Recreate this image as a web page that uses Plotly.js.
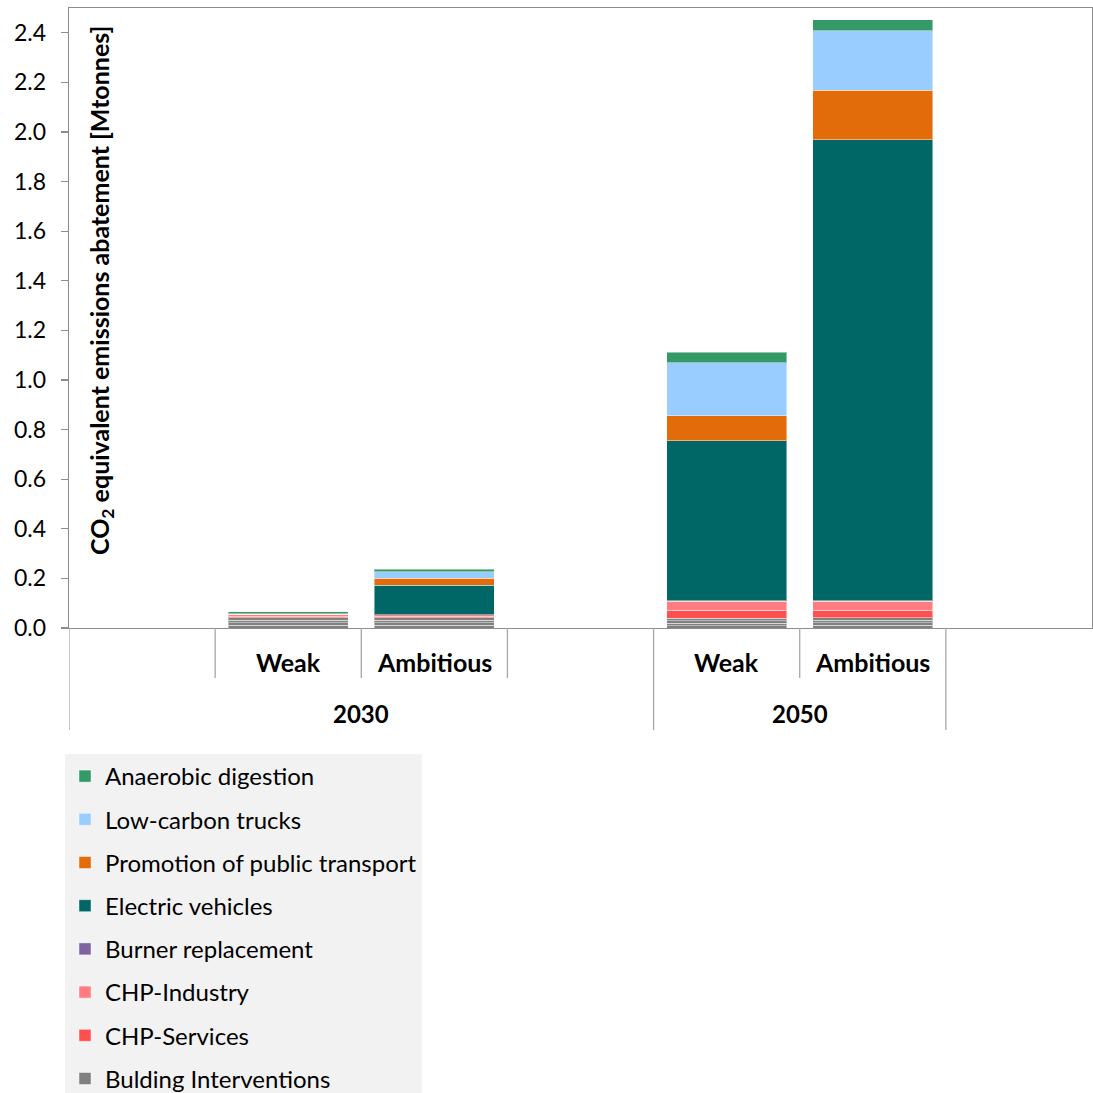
<!DOCTYPE html>
<html>
<head>
<meta charset="utf-8">
<script src="https://cdn.plot.ly/plotly-3.0.1.min.js"></script>
<style>
  html, body { margin: 0; padding: 0; background: #ffffff; }
  #chart { width: 1093px; height: 1093px; }
</style>
</head>
<body>
<div id="chart"></div>
<script>
// Scenario bars: year group and ambition level
const years = ['2030', '2030', '2050', '2050'];
const scenarios = ['Weak', 'Ambitious', 'Weak', 'Ambitious'];

// Abatement per measure, Mt CO2-eq (order follows the bars above)
// Building interventions are stacked as several grey sub-measures
const buildingInterventions = [
  [0.011, 0.011, 0.010, 0.011],
  [0.010, 0.010, 0.010, 0.010],
  [0.011, 0.011, 0.010, 0.010],
  [0.010, 0.010, 0.010, 0.010]
];
const chpServices = [0.006, 0.005, 0.032, 0.031];
const chpIndustry = [0.007, 0.007, 0.035, 0.035];
const burnerReplacement = [0.000, 0.000, 0.002, 0.002];
const electricVehicles = [0.001, 0.118, 0.646, 1.860];
const publicTransport = [0.001, 0.029, 0.100, 0.199];
const lowCarbonTrucks = [0.001, 0.026, 0.215, 0.241];
const anaerobicDigestion = [0.007, 0.009, 0.042, 0.044];

// Slot order on the category axis (empty slots pad the year groups)
const slotOrder = ['pad-a', '2030 Weak', '2030 Ambitious', 'pad-b', '2050 Weak', '2050 Ambitious', 'pad-c'];
const slotYear = ['2030', '2030', '2030', '2030', '2050', '2050', ''];

const xKeys = years.map((y, i) => y + ' ' + scenarios[i]);

const W = 1093, H = 1093;
const M = { l: 69, r: 1, t: 8, b: 465, autoexpand: false };
const plotH = H - M.t - M.b;
const plotBottom = H - M.b;
const py = p => (plotBottom - p) / plotH;   // pixel row -> paper y

const FONT = 'Lato, "Open Sans", sans-serif';
const outline = { color: 'rgba(255,255,255,0.45)', width: 1 };

function barTrace(name, values, color, rank, opts) {
  return Object.assign({
    type: 'bar',
    name: name,
    x: xKeys,
    y: values,
    marker: { color: color, line: outline },
    legendgroup: name,
    legendrank: rank,
    hovertemplate: name + ': %{y:.3f}<extra></extra>'
  }, opts || {});
}

// Stacked bottom to top; the legend lists them top to bottom
const traces = [];
buildingInterventions.forEach((vals, k) => {
  traces.push(barTrace('Bulding Interventions', vals, '#808080', 8,
    { legendgroup: 'Bulding Interventions', showlegend: k === 0 }));
});
traces.push(barTrace('CHP-Services', chpServices, '#ff5050', 7));
traces.push(barTrace('CHP-Industry', chpIndustry, '#ff7c80', 6));
traces.push(barTrace('Burner replacement', burnerReplacement, '#8064a2', 5));
traces.push(barTrace('Electric vehicles', electricVehicles, '#006666', 4));
traces.push(barTrace('Promotion of public transport', publicTransport, '#e36c0a', 3));
traces.push(barTrace('Low-carbon trucks', lowCarbonTrucks, '#99ccff', 2));
traces.push(barTrace('Anaerobic digestion', anaerobicDigestion, '#339966', 1));

// Category labels and divider lines below the axis
const annotations = [];
xKeys.forEach((k, i) => {
  annotations.push({
    x: k, xref: 'x', y: py(662), yref: 'paper',
    text: '<b>' + scenarios[i] + '</b>', showarrow: false,
    font: { family: FONT, size: 25, color: '#000' },
    xanchor: 'center', yanchor: 'middle'
  });
});
const groupYears = [...new Set(years)];
groupYears.forEach(g => {
  const idx = slotYear.map((s, i) => s === g ? i : -1).filter(i => i >= 0);
  const mid = (idx[0] + idx[idx.length - 1]) / 2;
  annotations.push({
    x: mid, xref: 'x', y: py(713), yref: 'paper',
    text: '<b>' + g + '</b>', showarrow: false,
    font: { family: FONT, size: 24, color: '#000' },
    xanchor: 'center', yanchor: 'middle'
  });
});
annotations.push({
  x: (101 - M.l) / (W - M.l - M.r), xref: 'paper',
  y: py(291), yref: 'paper',
  text: '<b>CO<sub>2</sub> equivalent emissions abatement [Mtonnes]</b>',
  textangle: -90, showarrow: false,
  font: { family: FONT, size: 25, color: '#000' },
  xanchor: 'center', yanchor: 'middle'
});

const shapes = [];
const lineStyle = { color: '#a6a6a6', width: 1.3 };
for (let i = 0; i < slotOrder.length - 1; i++) {
  const b = i - 0.5;
  const groupEdge = (i === 0) || slotYear[i] !== slotYear[i - 1];
  shapes.push({
    type: 'line', xref: 'x', yref: 'paper',
    x0: b, x1: b, y0: 0, y1: py(groupEdge ? 730 : 678),
    line: lineStyle
  });
}
// closing edge of the last year group
shapes.push({
  type: 'line', xref: 'x', yref: 'paper',
  x0: 5.5, x1: 5.5, y0: 0, y1: py(730), line: lineStyle
});

const layout = {
  width: W, height: H,
  margin: M,
  paper_bgcolor: '#ffffff',
  plot_bgcolor: '#ffffff',
  barmode: 'stack',
  bargap: 0.18,
  font: { family: FONT, color: '#000' },
  showlegend: true,
  xaxis: {
    type: 'category',
    categoryorder: 'array',
    categoryarray: slotOrder,
    range: [-0.5, slotOrder.length - 0.5],
    showticklabels: false,
    ticks: '',
    showgrid: false,
    zeroline: false,
    showline: true, mirror: true,
    linecolor: '#8c8c8c', linewidth: 1.3,
    fixedrange: true
  },
  yaxis: {
    range: [0, 2.5],
    dtick: 0.2, tick0: 0,
    tickformat: '.1f',
    ticks: 'outside', ticklen: 7, tickwidth: 1.2, tickcolor: '#8c8c8c',
    ticklabelstandoff: 10,
    tickfont: { family: FONT, size: 23, color: '#000' },
    showgrid: false,
    zeroline: false,
    showline: true, mirror: true,
    linecolor: '#8c8c8c', linewidth: 1.3,
    fixedrange: true
  },
  legend: {
    xref: 'container', yref: 'container',
    x: 65 / W, y: 1 - 754 / H,
    xanchor: 'left', yanchor: 'top',
    bgcolor: '#f2f2f2',
    traceorder: 'grouped',
    tracegroupgap: 9,
    font: { family: FONT, size: 24, color: '#000' },
    itemclick: false, itemdoubleclick: false
  },
  annotations: annotations,
  shapes: shapes
};

Plotly.newPlot('chart', traces, layout, { displayModeBar: false, staticPlot: true });
</script>
</body>
</html>
